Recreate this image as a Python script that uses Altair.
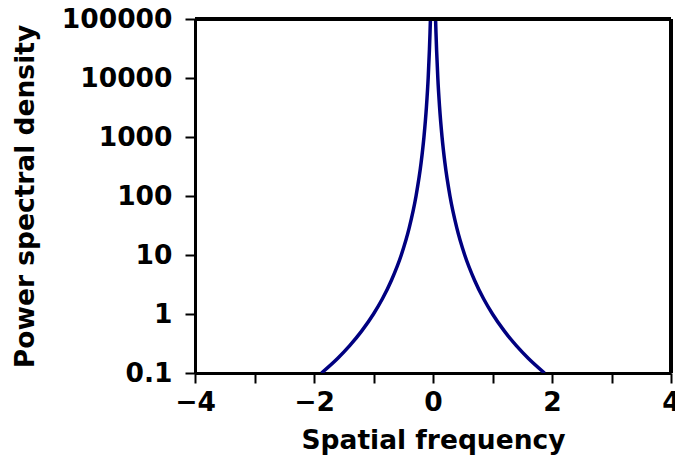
import altair as alt
import pandas as pd

# Right branch of the spectrum (frequency, PSD)
freq_right = [0.043, 0.05, 0.06, 0.081, 0.11, 0.152, 0.2, 0.285, 0.4, 0.533,
              0.7, 0.85, 1.0, 1.2, 1.4, 1.6, 1.874]
psd_right = [100000, 58900, 30300, 10000, 3270, 1000, 365, 100, 28.8, 10,
             3.70, 1.81, 1.0, 0.512, 0.291, 0.178, 0.1]

x_ticks = [-4, -3, -2, -1, 0, 1, 2, 3, 4]
y_ticks = [0.1, 1, 10, 100, 1000, 10000, 100000]

rows = []
for f, p in zip(freq_right, psd_right):
    rows.append({"f": f, "psd": p, "branch": "right"})
    rows.append({"f": -f, "psd": p, "branch": "left"})
df = pd.DataFrame(rows)

FONT = "DejaVu Sans"
FS = 26.5
W, H = 476, 354

line = alt.Chart(df).mark_line(
    color="#000080", strokeWidth=3.5, interpolate="monotone", clip=True
).encode(
    x=alt.X("f:Q", scale=alt.Scale(domain=[-4, 4], nice=False),
            axis=alt.Axis(values=x_ticks, title="Spatial frequency",
                          labelExpr="datum.value % 2 === 0 ? format(datum.value, 'd') : ''",
                          grid=False, tickSize=10, tickWidth=2, tickColor="black",
                          domainColor="black", domainWidth=3,
                          labelPadding=6, titlePadding=12,
                          labelFont=FONT, labelFontSize=FS, labelFontWeight="bold",
                          labelColor="black", labelFlush=False,
                          titleFont=FONT, titleFontSize=FS, titleFontWeight="bold",
                          titleColor="black")),
    y=alt.Y("psd:Q", scale=alt.Scale(type="log", domain=[0.1, 100000], nice=False),
            axis=alt.Axis(values=y_ticks, title="Power spectral density",
                          labelExpr="datum.value < 1 ? '0.1' : format(datum.value, 'd')",
                          grid=False, tickSize=10, tickWidth=2, tickColor="black",
                          domainColor="black", domainWidth=3,
                          labelPadding=13, titlePadding=22,
                          labelFont=FONT, labelFontSize=FS, labelFontWeight="bold",
                          labelColor="black", labelFlush=False, labelOverlap=False,
                          titleFont=FONT, titleFontSize=FS, titleFontWeight="bold",
                          titleColor="black")),
    detail="branch:N",
)

top_border = alt.Chart(df).mark_rule(color="black", strokeWidth=3).encode(
    x=alt.value(0), x2=alt.value(W), y=alt.value(0)
)
right_border = alt.Chart(df).mark_rule(color="black", strokeWidth=3).encode(
    x=alt.value(W), y=alt.value(0), y2=alt.value(H)
)

chart = alt.layer(line, top_border, right_border).properties(
    width=W, height=H,
    autosize=alt.AutoSizeParams(type="none"),
    padding={"left": 195, "top": 19, "right": 4, "bottom": 84},
).configure_view(stroke=None).configure(background="white")

chart.save("out.html", embed_options={"renderer": "svg", "actions": False})
